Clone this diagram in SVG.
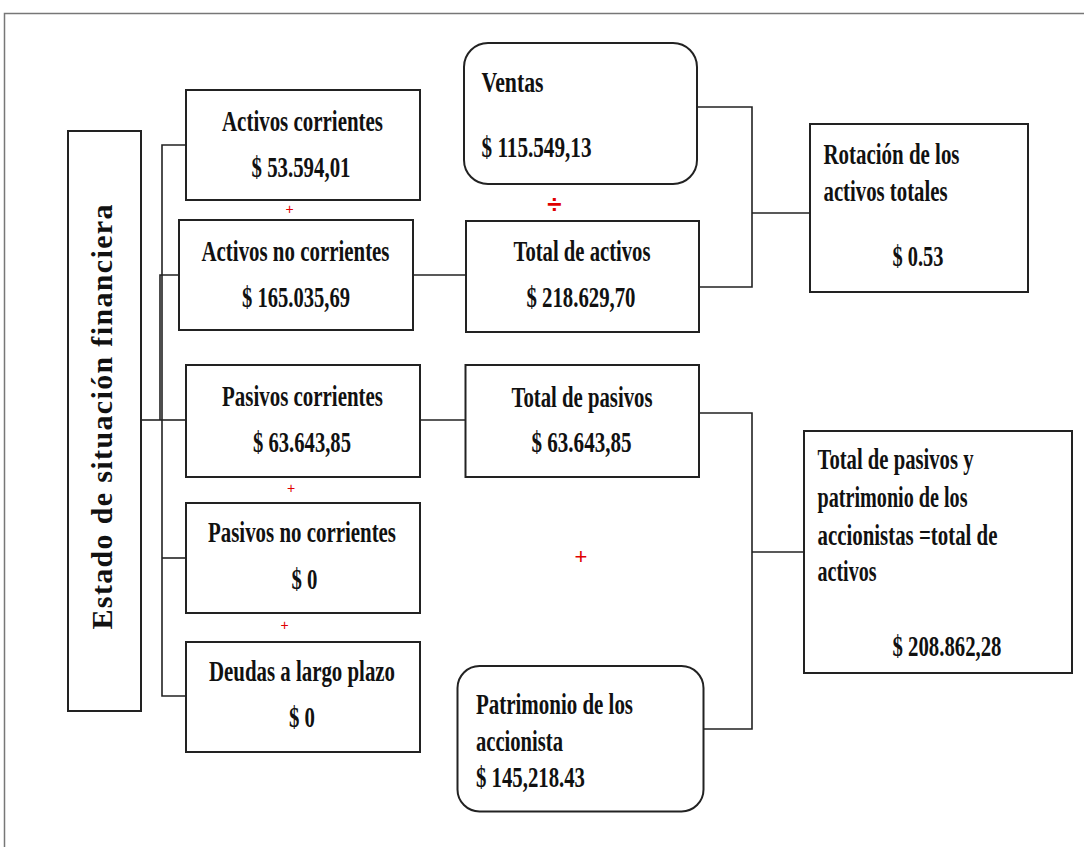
<svg xmlns="http://www.w3.org/2000/svg" width="1084" height="847" viewBox="0 0 1084 847">
<style>
.box{fill:#fff;stroke:#222;stroke-width:2}
.frame{fill:none;stroke:#777;stroke-width:1.5}
.con{fill:none;stroke:#222;stroke-width:1.6}
.t{font-family:"Liberation Serif","Times New Roman",serif;font-weight:bold;font-size:30px;fill:#111}
.c{text-anchor:middle}
.op{font-family:"Liberation Sans",Arial,sans-serif;fill:#e00000;text-anchor:middle}
</style>
<rect width="1084" height="847" fill="#fff"/>
<path class="frame" d="M1084,13.5 H4.5 V847"/>

<g id="connectors">
  <path class="con" d="M186,145 H162 V696 H186"/>
  <path class="con" d="M162,558 H186"/>
  <path class="con" d="M179,275 H160 V420" stroke="#555"/>
  <path class="con" d="M141,420 H162" stroke-width="2.5"/>
  <path class="con" d="M162,420 H186" stroke="#555"/>
  <path class="con" d="M413,275 H466"/>
  <path class="con" d="M420,420 H465"/>
  <path class="con" d="M697,107 H752 V287 H699"/>
  <path class="con" d="M752,213 H810"/>
  <path class="con" d="M700,413 H752 V729 H703"/>
  <path class="con" d="M752,552 H804"/>
</g>

<g id="estado">
  <rect class="box" x="68" y="131" width="73" height="580"/>
  <text class="t c" font-size="26" transform="translate(112,417) rotate(-90)" textLength="425" lengthAdjust="spacing">Estado de situación financiera</text>
</g>

<g id="activos-corrientes">
  <rect class="box" x="186" y="90" width="234" height="110"/>
  <text class="t c" x="302.5" y="131" textLength="161" lengthAdjust="spacingAndGlyphs">Activos corrientes</text>
  <text class="t c" x="301" y="177" textLength="99" lengthAdjust="spacingAndGlyphs">$ 53.594,01</text>
</g>
<text class="op" x="289.5" y="214" font-size="14">+</text>

<g id="activos-no-corrientes">
  <rect class="box" x="179" y="220" width="234" height="110"/>
  <text class="t c" x="295.5" y="261" textLength="188" lengthAdjust="spacingAndGlyphs">Activos no corrientes</text>
  <text class="t c" x="296" y="307" textLength="108" lengthAdjust="spacingAndGlyphs">$ 165.035,69</text>
</g>

<g id="pasivos-corrientes">
  <rect class="box" x="186" y="365" width="234" height="112"/>
  <text class="t c" x="302.5" y="406" textLength="161" lengthAdjust="spacingAndGlyphs">Pasivos corrientes</text>
  <text class="t c" x="302" y="452" textLength="98" lengthAdjust="spacingAndGlyphs">$ 63.643,85</text>
</g>
<text class="op" x="291" y="493" font-size="14">+</text>

<g id="pasivos-no-corrientes">
  <rect class="box" x="186" y="503" width="234" height="110"/>
  <text class="t c" x="302" y="542" textLength="188" lengthAdjust="spacingAndGlyphs">Pasivos no corrientes</text>
  <text class="t c" x="304.5" y="589" textLength="26" lengthAdjust="spacingAndGlyphs">$ 0</text>
</g>
<text class="op" x="284.5" y="630" font-size="14">+</text>

<g id="deudas">
  <rect class="box" x="186" y="642" width="234" height="110"/>
  <text class="t c" x="302" y="681" textLength="186" lengthAdjust="spacingAndGlyphs">Deudas a largo plazo</text>
  <text class="t c" x="302" y="727" textLength="26" lengthAdjust="spacingAndGlyphs">$ 0</text>
</g>

<g id="ventas">
  <rect class="box" x="464" y="43" width="233" height="141" rx="24"/>
  <text class="t" x="481.5" y="92" textLength="62" lengthAdjust="spacingAndGlyphs">Ventas</text>
  <text class="t" x="481.5" y="157" textLength="110" lengthAdjust="spacingAndGlyphs">$ 115.549,13</text>
</g>
<text class="op" x="554.5" y="213" font-size="26" font-weight="bold">÷</text>

<g id="total-activos">
  <rect class="box" x="466" y="221" width="233" height="111"/>
  <text class="t c" x="582" y="261" textLength="137" lengthAdjust="spacingAndGlyphs">Total de activos</text>
  <text class="t c" x="581" y="307" textLength="109" lengthAdjust="spacingAndGlyphs">$ 218.629,70</text>
</g>

<g id="rotacion">
  <rect class="box" x="810" y="124" width="218" height="168"/>
  <text class="t" x="823.5" y="164" textLength="136" lengthAdjust="spacingAndGlyphs">Rotación de los</text>
  <text class="t" x="823.5" y="201" textLength="124" lengthAdjust="spacingAndGlyphs">activos totales</text>
  <text class="t" x="892.5" y="266" textLength="51" lengthAdjust="spacingAndGlyphs">$ 0.53</text>
</g>

<g id="total-pasivos">
  <rect class="box" x="465.5" y="365" width="233.5" height="112"/>
  <text class="t c" x="582" y="407" textLength="141" lengthAdjust="spacingAndGlyphs">Total de pasivos</text>
  <text class="t c" x="581.5" y="452" textLength="100" lengthAdjust="spacingAndGlyphs">$ 63.643,85</text>
</g>
<text class="op" x="581" y="564" font-size="22">+</text>

<g id="patrimonio">
  <rect class="box" x="457.5" y="666" width="246" height="145.5" rx="22"/>
  <text class="t" x="476" y="714" textLength="157" lengthAdjust="spacingAndGlyphs">Patrimonio de los</text>
  <text class="t" x="476" y="751" textLength="87" lengthAdjust="spacingAndGlyphs">accionista</text>
  <text class="t" x="476" y="787" textLength="109" lengthAdjust="spacingAndGlyphs">$ 145,218.43</text>
</g>

<g id="total-pasivos-patrimonio">
  <rect class="box" x="804" y="431" width="268" height="242"/>
  <text class="t" x="817.5" y="469" textLength="156" lengthAdjust="spacingAndGlyphs">Total de pasivos y</text>
  <text class="t" x="817.5" y="507" textLength="150" lengthAdjust="spacingAndGlyphs">patrimonio de los</text>
  <text class="t" x="817.5" y="545" textLength="180" lengthAdjust="spacingAndGlyphs">accionistas =total de</text>
  <text class="t" x="817.5" y="581" textLength="59" lengthAdjust="spacingAndGlyphs">activos</text>
  <text class="t" x="892.5" y="656" textLength="109" lengthAdjust="spacingAndGlyphs">$ 208.862,28</text>
</g>
</svg>
